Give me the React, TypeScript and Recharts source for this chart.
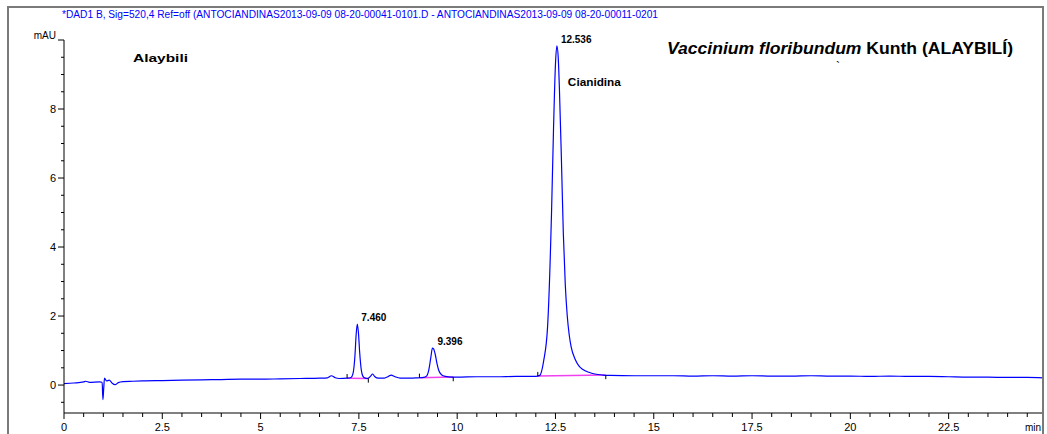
import React from "react";
import { ComposedChart, Line, XAxis, YAxis, ReferenceLine, ReferenceDot } from "recharts";

// ---- chromatogram data (time in min, signal in mAU) ----
const retentionTimes = [
  0.0, 0.25, 0.5, 0.55, 0.65, 0.9, 0.97, 0.99, 1.01, 1.03, 1.08, 1.15, 1.22, 1.3, 1.38, 1.5, 1.75,
  2.0, 2.5, 3.0, 3.5, 4.0, 4.5, 5.0, 5.5, 6.0, 6.5, 6.7, 6.8, 6.9, 7.0, 7.2, 7.3, 7.35, 7.4, 7.43,
  7.46, 7.49, 7.52, 7.56, 7.6, 7.66, 7.72, 7.8, 7.85, 7.9, 8.0, 8.15, 8.25, 8.32, 8.42, 8.55, 8.8,
  9.0, 9.15, 9.22, 9.28, 9.33, 9.37, 9.4, 9.44, 9.48, 9.53, 9.6, 9.7, 9.85, 10.0, 10.5, 11.0, 11.5,
  12.0, 12.1, 12.2, 12.3, 12.4, 12.45, 12.5, 12.536, 12.57, 12.6, 12.65, 12.7, 12.75, 12.8, 12.85,
  12.9, 13.0, 13.1, 13.2, 13.35, 13.5, 13.7, 13.9, 14.5, 15.0, 15.5, 16.0, 16.5, 17.0, 17.5, 18.0,
  18.5, 19.0, 19.5, 20.0, 20.5, 21.0, 21.5, 22.0, 22.5, 23.0, 23.5, 24.0, 24.5, 24.9,
];
const signalMAU = [
  0.04, 0.06, 0.09, 0.11, 0.08, 0.09, 0.08, -0.42, -0.1, 0.2, 0.12, 0.14, 0.06, 0.01, 0.07, 0.1, 0.11,
  0.12, 0.13, 0.14, 0.15, 0.16, 0.17, 0.17, 0.18, 0.19, 0.2, 0.21, 0.27, 0.21, 0.19, 0.2, 0.22, 0.33, 0.85, 1.45,
  1.77, 1.5, 0.95, 0.45, 0.26, 0.2, 0.19, 0.26, 0.32, 0.25, 0.2, 0.2, 0.25, 0.29, 0.24, 0.2, 0.2,
  0.21, 0.22, 0.26, 0.45, 0.8, 1.07, 1.05, 0.9, 0.66, 0.43, 0.3, 0.25, 0.23, 0.23, 0.24, 0.24, 0.25,
  0.25, 0.28, 0.7, 1.7, 5.0, 7.4, 9.3, 9.83, 9.5, 8.6, 6.6, 4.4, 2.9, 2.0, 1.45,
  1.1, 0.75, 0.55, 0.45, 0.37, 0.32, 0.29, 0.28, 0.27, 0.27, 0.27, 0.26, 0.27, 0.26, 0.27, 0.26,
  0.26, 0.27, 0.26, 0.26, 0.25, 0.26, 0.25, 0.25, 0.24, 0.23, 0.23, 0.22, 0.22, 0.21,
];

// ---- peaks ----
const peakTimes = [7.46, 9.396, 12.536];
const peakHeights = [1.77, 1.07, 9.83];
const peakLabels = ["7.460", "9.396", "12.536"];

// ---- integration baselines ----
const baseStartTimes = [7.2, 9.04, 12.05];
const baseStartValues = [0.2, 0.21, 0.26];
const baseEndTimes = [7.74, 9.9, 13.78];
const baseEndValues = [0.19, 0.23, 0.29];

// ---- axes ----
const xTicks = [
  0, 0.5, 1, 1.5, 2, 2.5, 3, 3.5, 4, 4.5, 5, 5.5, 6, 6.5, 7, 7.5, 8, 8.5, 9, 9.5, 10, 10.5, 11, 11.5,
  12, 12.5, 13, 13.5, 14, 14.5, 15, 15.5, 16, 16.5, 17, 17.5, 18, 18.5, 19, 19.5, 20, 20.5, 21, 21.5,
  22, 22.5, 23, 23.5, 24, 24.5, 24.9,
];
const xLabeledTicks = [0, 2.5, 5, 7.5, 10, 12.5, 15, 17.5, 20, 22.5];
const xUnitTick = 24.9;
const yTicks = [
  -0.5, 0, 0.5, 1, 1.5, 2, 2.5, 3, 3.5, 4, 4.5, 5, 5.5, 6, 6.5, 7, 7.5, 8, 8.5, 9, 9.5, 10,
];
const yLabeledTicks = [0, 2, 4, 6, 8];
const yUnitTick = 10;

const headerText =
  "*DAD1 B, Sig=520,4 Ref=off (ANTOCIANDINAS2013-09-09 08-20-00041-0101.D - ANTOCIANDINAS2013-09-09 08-20-00011-0201";

const data = retentionTimes.map((t, i) => ({ t, v: signalMAU[i] }));

const FONT = "'Liberation Sans', Arial, sans-serif";

const XTick = (props: any) => {
  const { x, y, payload } = props;
  const v = payload.value;
  if (v === xUnitTick) {
    return (
      <text x={x - 2} y={y + 18} textAnchor="end" fontSize={10} fill="#000" fontFamily={FONT}>
        min
      </text>
    );
  }
  const labeled = xLabeledTicks.includes(v);
  return (
    <g>
      <line x1={x} y1={y} x2={x} y2={y + (labeled ? 6 : 4)} stroke="#000" strokeWidth={1} />
      {labeled && (
        <text x={x} y={y + 18} textAnchor="middle" fontSize={11} fill="#000" fontFamily={FONT}>
          {String(v)}
        </text>
      )}
    </g>
  );
};

const YTick = (props: any) => {
  const { x, y, payload } = props;
  const v = payload.value;
  const labeled = yLabeledTicks.includes(v);
  const unit = v === yUnitTick;
  const len = labeled || unit ? 6 : 3;
  return (
    <g>
      <line x1={x - len} y1={y} x2={x} y2={y} stroke="#000" strokeWidth={1} />
      {labeled && (
        <text x={x - 8} y={y + 4} textAnchor="end" fontSize={11} fill="#000" fontFamily={FONT}>
          {String(v)}
        </text>
      )}
      {unit && (
        <text x={x - 8} y={y - 1} textAnchor="end" fontSize={10} fill="#000" fontFamily={FONT}>
          mAU
        </text>
      )}
    </g>
  );
};

const peakLabel = (text: string, extra?: string) => (props: any) => {
  const vb = props.viewBox || {};
  const cx = (vb.x || 0) + (vb.width || 0) / 2;
  const cy = (vb.y || 0) + (vb.height || 0) / 2;
  return (
    <g>
      <text x={cx + 4} y={cy - 3} fontSize={10} fontWeight="bold" fill="#000" fontFamily={FONT}>
        {text}
      </text>
      {extra && (
        <text
          x={cx + 11}
          y={cy + 40}
          fontSize={11}
          fontWeight="bold"
          fill="#000"
          fontFamily={FONT}
          textLength={53}
          lengthAdjust="spacingAndGlyphs"
        >
          {extra}
        </text>
      )}
    </g>
  );
};

export default function App() {
  return (
    <div style={{ position: "absolute", left: 0, top: 0, width: 1047, height: 434, background: "#fff" }}>
      <ComposedChart
        width={1047}
        height={434}
        data={data}
        margin={{ top: 40, right: 4, bottom: 0, left: 0 }}
        style={{ fontFamily: FONT }}
      >
        <XAxis
          dataKey="t"
          type="number"
          domain={[0, 24.9]}
          allowDataOverflow
          ticks={xTicks}
          interval={0}
          tickSize={0}
          tickMargin={0}
          tickLine={false}
          tick={<XTick />}
          height={21}
          axisLine={{ stroke: "#000", strokeWidth: 1 }}
        />
        <YAxis
          type="number"
          domain={[-0.81, 10]}
          allowDataOverflow
          ticks={yTicks}
          interval={0}
          tickSize={0}
          tickMargin={0}
          tickLine={false}
          tick={<YTick />}
          width={64}
          axisLine={{ stroke: "#000", strokeWidth: 1 }}
        />
        {baseStartTimes.map((s, i) => (
          <ReferenceLine
            key={"bl" + i}
            segment={[
              { x: s, y: baseStartValues[i] },
              { x: baseEndTimes[i], y: baseEndValues[i] },
            ]}
            stroke="#f040f0"
            strokeWidth={1.5}
          />
        ))}
        <Line
          dataKey="v"
          type="monotone"
          stroke="#0000ff"
          strokeWidth={1.2}
          dot={false}
          isAnimationActive={false}
        />
        {baseStartTimes.map((s, i) => (
          <ReferenceLine
            key={"ts" + i}
            segment={[
              { x: s, y: baseStartValues[i] },
              { x: s, y: baseStartValues[i] + 0.12 },
            ]}
            stroke="#000"
            strokeWidth={1}
          />
        ))}
        {baseEndTimes.map((e, i) => (
          <ReferenceLine
            key={"te" + i}
            segment={[
              { x: e, y: baseEndValues[i] - 0.12 },
              { x: e, y: baseEndValues[i] },
            ]}
            stroke="#000"
            strokeWidth={1}
          />
        ))}
        {peakTimes.map((t, i) => (
          <ReferenceDot
            key={"pk" + i}
            x={t}
            y={peakHeights[i]}
            r={1}
            fill="none"
            stroke="none"
            label={{ content: peakLabel(peakLabels[i], i === 2 ? "Cianidina" : undefined) }}
          />
        ))}
      </ComposedChart>
      <svg
        width={1047}
        height={434}
        style={{ position: "absolute", left: 0, top: 0, pointerEvents: "none" }}
        fontFamily={FONT}
      >
        <rect x={8} y={7} width={1035} height={440} fill="none" stroke="#7a7a7a" strokeWidth={2} />
        <text x={62} y={18} fontSize={10} fill="#0000ff" textLength={596} lengthAdjust="spacingAndGlyphs">
          {headerText}
        </text>
        <text x={133} y={62} fontSize={11} fontWeight="bold" fill="#000" textLength={55} lengthAdjust="spacingAndGlyphs">
          Alaybili
        </text>
        <text x={667} y={54} fontSize={17} fontWeight="bold" fill="#000" textLength={346} lengthAdjust="spacingAndGlyphs">
          <tspan fontStyle="italic">Vaccinium floribundum</tspan>
          <tspan> Kunth (ALAYBILÍ)</tspan>
        </text>
        <text x={836} y={71} fontSize={12} fill="#000">
          `
        </text>
      </svg>
    </div>
  );
}
